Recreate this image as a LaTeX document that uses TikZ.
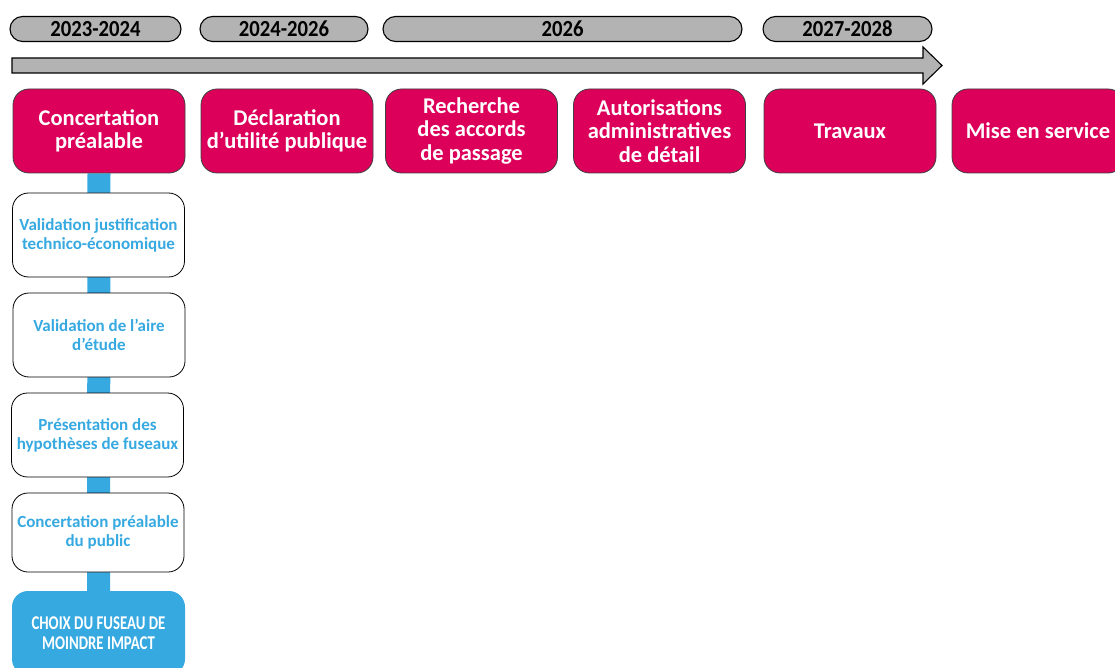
\documentclass[tikz,border=0pt]{standalone}
\usepackage{fontspec}
\setmainfont{Carlito}
\newfontfamily\condfont[FakeStretch=0.9]{Carlito}
\newfontfamily\choixfont[FakeStretch=0.76]{Carlito}
\usetikzlibrary{backgrounds}
\definecolor{mag}{RGB}{220,0,90}
\definecolor{sky}{RGB}{54,169,225}
\definecolor{pillgray}{RGB}{179,179,179}
\tikzset{
  pill/.style={draw=black, line width=1.1pt, fill=pillgray, rounded corners=12.5pt, minimum height=25pt, inner sep=0pt, font=\condfont\bfseries\fontsize{23}{24}\selectfont, text=black},
  phase/.style={draw=black!75, line width=0.8pt, fill=mag, rounded corners=16pt, minimum width=172pt, minimum height=84pt, inner sep=0pt, text=white, align=center, font=\bfseries\fontsize{22.5}{23.5}\selectfont},
  stepbox/.style={draw=black, line width=0.8pt, fill=white, rounded corners=16pt, minimum width=172pt, inner sep=0pt, text=sky, align=center, font=\bfseries\fontsize{17}{19}\selectfont},
  choixbox/.style={fill=sky, rounded corners=16pt, minimum width=173pt, minimum height=84pt, inner sep=0pt, text=white, align=center, font=\choixfont\bfseries\fontsize{19.5}{20.5}\selectfont},
}
\begin{document}
\begin{tikzpicture}[x=1pt,y=-1pt]
\useasboundingbox (0,0) rectangle (1115,668);
% year pills
\node[pill, minimum width=171pt] (y1) at (95.5,29) {\raisebox{-1.5pt}{2023-2024}};
\node[pill, minimum width=168pt] (y2) at (284,29) {\raisebox{-1.5pt}{2024-2026}};
\node[pill, minimum width=359pt] (y3) at (562.5,29) {\raisebox{-1.5pt}{2026}};
\node[pill, minimum width=169pt] (y4) at (847.5,29) {\raisebox{-1.5pt}{2027-2028}};
% timeline arrow
\draw[line width=1.1pt, fill=pillgray, line join=miter]
  (12,58) -- (923,58) -- (923,47) -- (942,65.5) -- (923,84) -- (923,73) -- (12,73) -- cycle;
% phases
\node[phase] (p1) at (99,131) {Concertation\\préalable};
\node[phase] (p2) at (287,131) {Déclaration\\d’utilité publique};
\node[phase] (p3) at (471.5,131) {Recherche\\des accords\\de passage};
\node[phase] (p4) at (659.5,131) {Autorisations\\administratives\\de détail};
\node[phase] (p5) at (850,131) {Travaux};
\node[phase] (p6) at (1038,131) {Mise en service};
% steps
\node[stepbox, minimum height=84pt] (s1) at (98.5,235) {Validation justification\\technico-économique};
\node[stepbox, minimum height=84pt] (s2) at (99,335) {Validation de l’aire\\d’étude};
\node[stepbox, minimum height=84pt] (s3) at (97.5,435) {Présentation des\\hypothèses de fuseaux};
\node[stepbox, minimum height=79pt] (s4) at (98,532.5) {Concertation préalable\\du public};
\node[choixbox] (s5) at (98.5,633) {CHOIX DU FUSEAU DE\\MOINDRE IMPACT};
\begin{scope}[on background layer]
\draw[sky, line width=23pt] (p1.south) -- (s5.north);
\end{scope}
\end{tikzpicture}
\end{document}
